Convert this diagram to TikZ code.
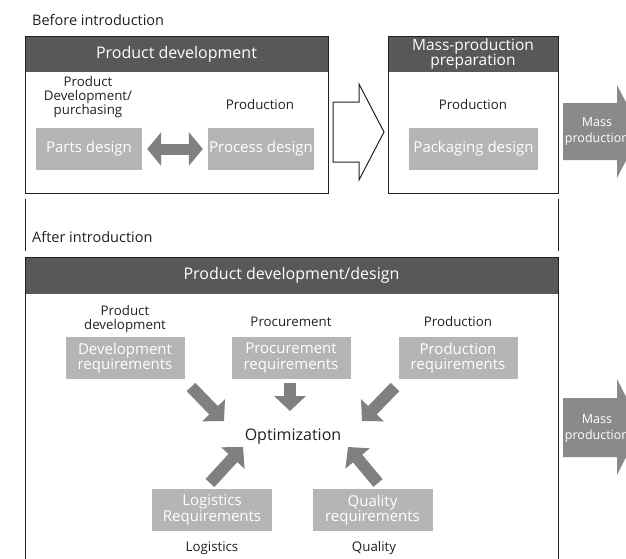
\documentclass[tikz,border=0pt]{standalone}
\usepackage{fontspec}
\setmainfont{Open Sans}
\usetikzlibrary{arrows.meta}
\definecolor{hdrFill}{RGB}{89,87,87}
\definecolor{taskFill}{RGB}{181,181,181}
\definecolor{arrFill}{RGB}{128,128,128}
\definecolor{massFill}{RGB}{138,138,138}
\definecolor{ink}{RGB}{35,31,32}
\tikzset{
  frame/.style={draw=ink, line width=1pt},
  hdr/.style={rectangle, fill=hdrFill, text=white, inner sep=0pt, align=center,
              font=\fontsize{16}{16}\selectfont},
  task/.style={rectangle, fill=taskFill, text=white, inner sep=0pt, align=center,
               minimum height=42pt, font=\fontsize{15}{15.5}\selectfont},
  lbl/.style={text=ink, inner sep=0pt, align=center, font=\fontsize{13.3}{14}\selectfont},
  stage/.style={text=ink, inner sep=0pt, anchor=west, font=\fontsize{14.5}{15}\selectfont},
  masslbl/.style={text=white, inner sep=0pt, align=center, font=\fontsize{12.5}{16}\selectfont},
  fat/.style={draw=arrFill, line width=12pt, -{Triangle[length=15pt, width=31pt]}},
  fatboth/.style={draw=arrFill, line width=11pt,
                  {Triangle[length=14pt, width=33pt]}-{Triangle[length=14pt, width=33pt]},
                  shorten <=5pt, shorten >=5pt},
}

\begin{document}
\begin{tikzpicture}[x=1pt, y=-1pt]
  \useasboundingbox (0,0) rectangle (626,558);
  \clip (0,0) rectangle (626,558);

  % before introduction
  \node[stage] (before) at (32,20) {Before introduction};
  \node[hdr, minimum width=303pt, minimum height=36pt] (pdhdr) at (176.5,54) {Product development};
  \node[frame, minimum width=303pt, minimum height=157pt] (pdbox) at (176.5,114.5) {};
  \node[lbl] (pdlbl) at (88,97) {Product\\Development/\\purchasing};
  \node[lbl] (prodlbl) at (260,105) {Production};
  \node[task, minimum width=106pt] (parts) at (89,149) {Parts design};
  \node[task, minimum width=106pt] (process) at (261,149) {Process design};
  \draw[fatboth] (parts) -- (process);

  \draw[frame, fill=white] (333,102) -- (359,102) -- (359,84) -- (384,132)
    -- (359,180) -- (359,162) -- (333,162) -- cycle;

  \node[hdr, minimum width=170pt, minimum height=36pt, font=\fontsize{15.5}{15.5}\selectfont]
    (mphdr) at (473,54) {Mass-production\\preparation};
  \node[frame, minimum width=170pt, minimum height=157pt] (mpbox) at (473,114.5) {};
  \node[lbl] (mplbl) at (473,105) {Production};
  \node[task, minimum width=129pt] (pack) at (473.5,149) {Packaging design};

  \fill[massFill] (563,103) -- (617,103) -- (617,85) -- (641,131.5)
    -- (617,178) -- (617,160) -- (563,160) -- cycle;
  \node[masslbl] (mass1) at (597,132) {Mass\\production};

  % after introduction
  \draw[frame] (25,199) -- (25,251);
  \draw[frame] (558,199) -- (558,251);
  \node[stage] (after) at (32,237) {After introduction};

  \node[hdr, minimum width=533pt, minimum height=37pt] (pddhdr) at (291.5,275.5) {Product development/design};
  \draw[frame] (25,565) -- (25,257) -- (558,257) -- (558,565);

  \node[lbl, font=\fontsize{13.3}{13.5}\selectfont] (devlbl) at (125,319) {Product\\development};
  \node[lbl] (proclbl) at (291,322) {Procurement};
  \node[lbl] (prodlbl2) at (458,322) {Production};
  \node[task, minimum width=119pt] (devreq) at (125,358) {Development\\requirements};
  \node[task, minimum width=119pt] (procreq) at (291,358) {Procurement\\requirements};
  \node[task, minimum width=119pt] (prodreq) at (458,358) {Production\\requirements};

  \node[lbl, font=\fontsize{16}{16}\selectfont] (opt) at (293,437) {Optimization};

  \node[task, minimum width=120pt] (logreq) at (212,510) {Logistics\\Requirements};
  \node[task, minimum width=120pt] (qualreq) at (372.5,510) {Quality\\requirements};
  \node[lbl] (loglbl) at (212,548) {Logistics};
  \node[lbl] (quallbl) at (374,548) {Quality};

  \coordinate (devout) at (191,387);
  \coordinate (devin) at (224,421);
  \coordinate (procout) at (290,383);
  \coordinate (procin) at (290,411);
  \coordinate (prodout) at (395,387);
  \coordinate (prodin) at (362,421);
  \coordinate (logout) at (210,483);
  \coordinate (login) at (243,447);
  \coordinate (qualout) at (378,483);
  \coordinate (qualin) at (348,447);
  \draw[fat] (devout) -- (devin);
  \draw[fat] (procout) -- (procin);
  \draw[fat] (prodout) -- (prodin);
  \draw[fat] (logout) -- (login);
  \draw[fat] (qualout) -- (qualin);

  \fill[massFill] (563,398) -- (617,398) -- (617,379) -- (641,427)
    -- (617,475) -- (617,457) -- (563,457) -- cycle;
  \node[masslbl] (mass2) at (597,428.5) {Mass\\production};
\end{tikzpicture}
\end{document}
